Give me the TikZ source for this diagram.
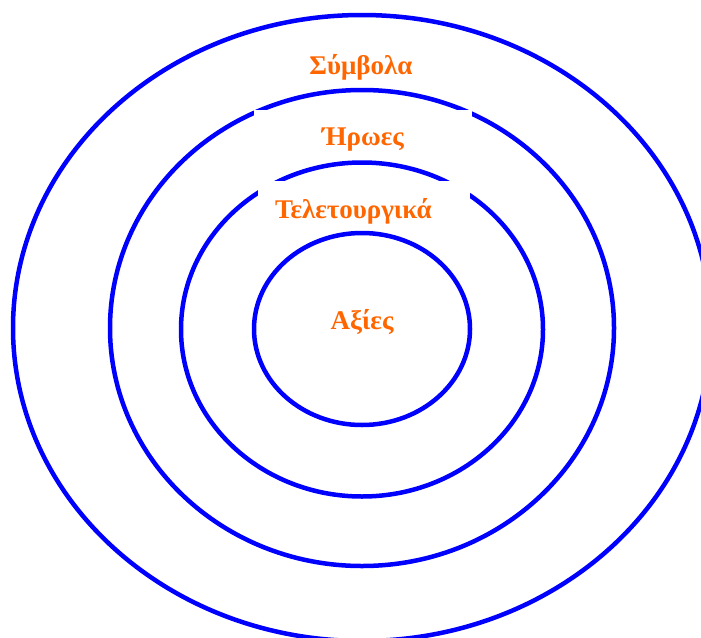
\documentclass[tikz,border=0pt]{standalone}
\usepackage{fontspec}
\setmainfont{Liberation Serif}
\definecolor{ringblue}{RGB}{0,0,255}
\definecolor{labelorange}{RGB}{255,102,0}
\begin{document}
\begin{tikzpicture}[x=1pt,y=-1pt,
  ring/.style={draw=ringblue, line width=4.5pt},
  lbl/.style={text=labelorange, font=\bfseries\fontsize{27}{31}\selectfont, anchor=base},
  lblbox/.style={lbl, fill=white, inner ysep=17pt}]
\useasboundingbox (0,0) rectangle (701,637);
\draw[ring] (362,328) ellipse [x radius=349pt, y radius=313pt];
\draw[ring] (362,328) ellipse [x radius=252pt, y radius=238pt];
\node[lblbox, minimum width=218pt] (heroes) at (363,145) {Ήρωες};
\draw[ring] (362,329.5) ellipse [x radius=181pt, y radius=167pt];
\node[lblbox, text width=178pt, inner xsep=17pt, align=left] (rituals) at (364,218) {Τελετουργικά};
\draw[ring] (362,329) ellipse [x radius=108pt, y radius=96pt];
\node[lbl] (symbols) at (361,74) {Σύμβολα};
\node[lbl] (values) at (362,329) {Αξίες};
\end{tikzpicture}
\end{document}
